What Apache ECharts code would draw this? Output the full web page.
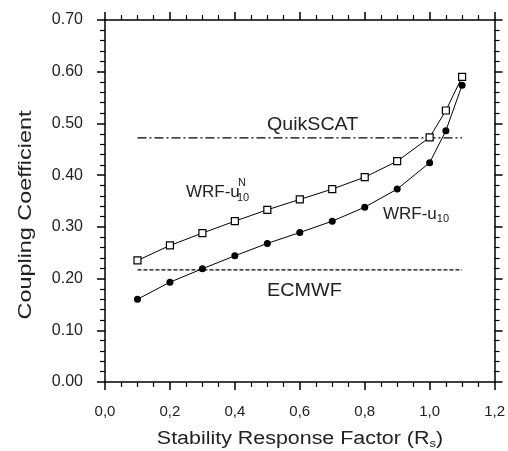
<!DOCTYPE html>
<html>
<head>
<meta charset="utf-8">
<script src="https://cdn.jsdelivr.net/npm/echarts@6/dist/echarts.min.js"></script>
<style>
  html, body { margin: 0; padding: 0; background: #fff; }
  #chart { width: 508px; height: 451px; }
</style>
</head>
<body>
<div id="chart"></div>
<script>
var rsValues = [0.1, 0.2, 0.3, 0.4, 0.5, 0.6, 0.7, 0.8, 0.9, 1.0, 1.05, 1.1];
var wrfU10N = [0.235, 0.264, 0.288, 0.311, 0.333, 0.353, 0.373, 0.396, 0.427, 0.473, 0.525, 0.590];
var wrfU10 = [0.160, 0.193, 0.219, 0.244, 0.268, 0.289, 0.311, 0.338, 0.373, 0.424, 0.486, 0.574];
var quikscatLevel = 0.472;
var ecmwfLevel = 0.217;
var refRange = [0.1, 1.1];

var font = "Liberation Sans, Arial, sans-serif";

function pairs(xs, ys) {
  var arr = [];
  for (var i = 0; i < xs.length; i++) {
    arr.push([xs[i], ys[i]]);
  }
  return arr;
}

var myChart = echarts.init(document.getElementById("chart"));

function axisBase(split) {
  return {
    axisLine: { show: true, onZero: false, lineStyle: { color: "#000", width: 1.5 } },
    axisTick: { show: true, inside: false, length: 8, lineStyle: { color: "#000", width: 1.5 } },
    minorTick: { show: true, splitNumber: split, length: 5, lineStyle: { color: "#000", width: 1.2 } },
    splitLine: { show: false }
  };
}

var option = {
  animation: false,
  grid: { left: 105, right: 13, top: 20, bottom: 69 },
  xAxis: [
    Object.assign({
      type: "value",
      min: 0,
      max: 1.2,
      interval: 0.2,
      axisLabel: {
        color: "#222",
        fontSize: 15,
        fontFamily: font,
        margin: 22,
        formatter: function (v) { return v.toFixed(1).replace(".", ","); }
      }
    }, axisBase(4)),
    Object.assign({
      type: "value",
      position: "top",
      min: 0,
      max: 1.2,
      interval: 0.2,
      axisLabel: { show: false }
    }, axisBase(4))
  ],
  yAxis: [
    Object.assign({
      type: "value",
      min: 0,
      max: 0.7,
      interval: 0.1,
      axisLabel: {
        color: "#222",
        fontSize: 16,
        fontFamily: font,
        margin: 22,
        formatter: function (v) { return v.toFixed(2); }
      }
    }, axisBase(5)),
    Object.assign({
      type: "value",
      position: "right",
      min: 0,
      max: 0.7,
      interval: 0.1,
      axisLabel: { show: false }
    }, axisBase(5))
  ],
  series: [
    {
      name: "QuikSCAT",
      type: "line",
      symbol: "none",
      data: [[refRange[0], quikscatLevel], [refRange[1], quikscatLevel]],
      lineStyle: { color: "#000", width: 1.2, type: [9, 3, 2, 3] }
    },
    {
      name: "ECMWF",
      type: "line",
      symbol: "none",
      data: [[refRange[0], ecmwfLevel], [refRange[1], ecmwfLevel]],
      lineStyle: { color: "#000", width: 1.2, type: [4, 2] }
    },
    {
      name: "WRF-u10N",
      type: "line",
      data: pairs(rsValues, wrfU10N),
      symbol: "rect",
      symbolSize: 7,
      itemStyle: { color: "#fff", borderColor: "#000", borderWidth: 1.2 },
      lineStyle: { color: "#000", width: 1 },
      z: 3
    },
    {
      name: "WRF-u10",
      type: "line",
      data: pairs(rsValues, wrfU10),
      symbol: "circle",
      symbolSize: 7,
      itemStyle: { color: "#000" },
      lineStyle: { color: "#000", width: 1 },
      z: 3
    }
  ],
  graphic: [
    // axis titles (stretched a little, like the original lettering)
    {
      type: "text", x: 300, y: 439, scaleX: 1.19,
      style: {
        text: "{t|Stability Response Factor (R}{s|s}{t|)}",
        align: "center", verticalAlign: "middle",
        rich: {
          t: { font: "18px " + font, fill: "#222" },
          s: { font: "11px " + font, fill: "#222", padding: [10, 0, 0, 0] }
        }
      }
    },
    {
      type: "text", x: 26, y: 215, rotation: Math.PI / 2, scaleX: 1.3,
      style: {
        text: "Coupling Coefficient", font: "18px " + font, fill: "#222",
        align: "center", verticalAlign: "middle"
      }
    },
    {
      type: "text", x: 267, y: 116, scaleX: 1.09,
      style: { text: "QuikSCAT", font: "18px " + font, fill: "#222" }
    },
    {
      type: "text", x: 267, y: 282, scaleX: 1.1,
      style: { text: "ECMWF", font: "18px " + font, fill: "#222" }
    },
    {
      type: "text", left: 186, top: 184,
      style: { text: "WRF-u", font: "17px " + font, fill: "#222" }
    },
    {
      type: "text", left: 238, top: 177,
      style: { text: "N", font: "11px " + font, fill: "#222" }
    },
    {
      type: "text", left: 237, top: 192,
      style: { text: "10", font: "11px " + font, fill: "#222" }
    },
    {
      type: "text", left: 383, top: 206,
      style: {
        text: "{a|WRF-u}{b|10}",
        rich: {
          a: { font: "17px " + font, fill: "#222" },
          b: { font: "11px " + font, fill: "#222", padding: [9, 0, 0, 0] }
        }
      }
    }
  ]
};

myChart.setOption(option);
</script>
</body>
</html>
